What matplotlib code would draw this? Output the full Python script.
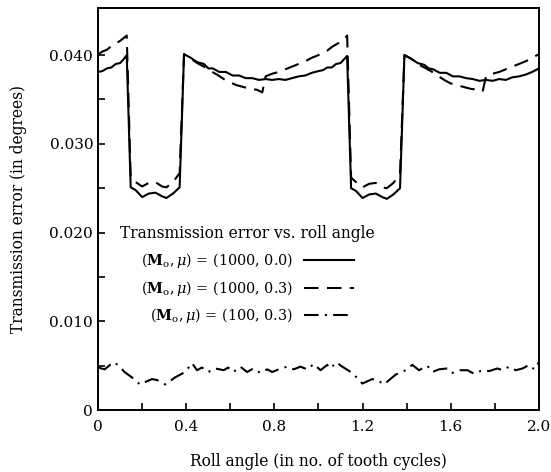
import matplotlib
matplotlib.use("Agg")
import matplotlib.pyplot as plt
from matplotlib.ticker import MultipleLocator, FixedLocator, FixedFormatter

plt.rcParams['font.family'] = ['DejaVu Serif']
plt.rcParams['mathtext.fontset'] = 'dejavuserif'

# (M_o, mu) = (1000, 0.0)  solid
x_solid = [0.00, 0.02, 0.04, 0.06, 0.08, 0.10, 0.115, 0.13, 0.148, 0.17, 0.20, 0.23, 0.26, 0.29,
           0.31, 0.34, 0.37, 0.39, 0.42, 0.45, 0.48, 0.50, 0.52, 0.55, 0.58, 0.61, 0.64, 0.67,
           0.70, 0.73, 0.76, 0.79, 0.82, 0.85, 0.88, 0.91, 0.94, 0.97, 1.00, 1.02, 1.04, 1.06,
           1.08, 1.10, 1.115, 1.13, 1.148, 1.17, 1.20, 1.23, 1.26, 1.29, 1.31, 1.34, 1.37, 1.39,
           1.42, 1.45, 1.48, 1.50, 1.52, 1.55, 1.58, 1.61, 1.64, 1.67, 1.70, 1.73, 1.76, 1.79,
           1.82, 1.85, 1.88, 1.91, 1.94, 1.97, 2.00]
y_solid = [0.0381, 0.0382, 0.0385, 0.0386, 0.0390, 0.0391, 0.0395, 0.0400, 0.0251, 0.0248, 0.0240,
           0.0244, 0.0245, 0.0241, 0.0239, 0.0244, 0.0251, 0.0401, 0.0397, 0.0392, 0.0390, 0.0385,
           0.0385, 0.0381, 0.0381, 0.0377, 0.0377, 0.0374, 0.0374, 0.0372, 0.0373, 0.0372, 0.0373,
           0.0372, 0.0374, 0.0376, 0.0377, 0.0380, 0.0382, 0.0383, 0.0386, 0.0386, 0.0390, 0.0391,
           0.0395, 0.0399, 0.0250, 0.0247, 0.0239, 0.0243, 0.0244, 0.0240, 0.0238, 0.0243, 0.0250,
           0.0400, 0.0396, 0.0391, 0.0389, 0.0385, 0.0384, 0.0380, 0.0380, 0.0376, 0.0376, 0.0374,
           0.0373, 0.0371, 0.0372, 0.0371, 0.0373, 0.0372, 0.0375, 0.0376, 0.0378, 0.0381, 0.0385]

# (M_o, mu) = (1000, 0.3)  dashed
x_dashed = [0.00, 0.02, 0.04, 0.06, 0.08, 0.10, 0.12, 0.13, 0.148, 0.17, 0.20, 0.23, 0.26, 0.29,
            0.31, 0.34, 0.37, 0.39, 0.42, 0.45, 0.48, 0.51, 0.54, 0.57, 0.60, 0.63, 0.66, 0.69,
            0.72, 0.745, 0.76, 0.79, 0.82, 0.85, 0.88, 0.91, 0.94, 0.97, 1.00, 1.02, 1.04, 1.06,
            1.08, 1.10, 1.12, 1.13, 1.148, 1.17, 1.20, 1.23, 1.26, 1.29, 1.31, 1.34, 1.37, 1.39,
            1.42, 1.45, 1.48, 1.51, 1.54, 1.57, 1.60, 1.63, 1.66, 1.69, 1.72, 1.745, 1.76, 1.79,
            1.82, 1.85, 1.88, 1.91, 1.94, 1.97, 2.00]
y_dashed = [0.0401, 0.0404, 0.0406, 0.0410, 0.0413, 0.0416, 0.0420, 0.0422, 0.0262, 0.0257, 0.0252,
            0.0256, 0.0257, 0.0252, 0.0251, 0.0257, 0.0267, 0.0401, 0.0396, 0.0391, 0.0387, 0.0382,
            0.0378, 0.0373, 0.0369, 0.0366, 0.0364, 0.0362, 0.0361, 0.0358, 0.0376, 0.0379, 0.0381,
            0.0384, 0.0387, 0.0390, 0.0393, 0.0397, 0.0400, 0.0403, 0.0405, 0.0409, 0.0412, 0.0415,
            0.0419, 0.0422, 0.0262, 0.0257, 0.0251, 0.0255, 0.0256, 0.0251, 0.0250, 0.0256, 0.0266,
            0.0400, 0.0396, 0.0390, 0.0386, 0.0382, 0.0377, 0.0372, 0.0368, 0.0366, 0.0364, 0.0362,
            0.0361, 0.0359, 0.0376, 0.0379, 0.0381, 0.0384, 0.0387, 0.0390, 0.0393, 0.0397, 0.0401]

# (M_o, mu) = (100, 0.3)  dash-dot
x_dashdot = [0.00, 0.03, 0.069, 0.09, 0.12, 0.153, 0.19, 0.244, 0.267, 0.305, 0.35, 0.395, 0.426,
             0.449, 0.471, 0.50, 0.532, 0.57, 0.59, 0.614, 0.645, 0.676, 0.705, 0.736, 0.767,
             0.79, 0.82, 0.857, 0.888, 0.918, 0.949, 0.979, 1.009, 1.04, 1.055, 1.08, 1.108,
             1.153, 1.199, 1.244, 1.267, 1.297, 1.35, 1.395, 1.426, 1.456, 1.494, 1.517, 1.547,
             1.585, 1.608, 1.638, 1.676, 1.706, 1.744, 1.774, 1.812, 1.835, 1.865, 1.895, 1.926,
             1.956, 1.979, 2.00]
y_dashdot = [0.0048, 0.0046, 0.0054, 0.0051, 0.0043, 0.0037, 0.0029, 0.0035, 0.0034, 0.0029,
             0.0037, 0.0043, 0.0053, 0.0045, 0.0048, 0.0043, 0.0047, 0.0045, 0.0048, 0.0043,
             0.0049, 0.0043, 0.0047, 0.0042, 0.0046, 0.0043, 0.0046, 0.0049, 0.0046, 0.0049,
             0.0046, 0.0052, 0.0045, 0.0051, 0.0047, 0.0054, 0.0049, 0.0042, 0.0030, 0.0035,
             0.0034, 0.0029, 0.0040, 0.0045, 0.0051, 0.0045, 0.0050, 0.0043, 0.0046, 0.0047,
             0.0042, 0.0045, 0.0045, 0.0041, 0.0045, 0.0044, 0.0047, 0.0045, 0.0049, 0.0045,
             0.0047, 0.0051, 0.0046, 0.0054]

labels = [r"$(\mathbf{M}_\mathrm{o},\mu)$ = (1000, 0.0)",
          r"$(\mathbf{M}_\mathrm{o},\mu)$ = (1000, 0.3)",
          r"$(\mathbf{M}_\mathrm{o},\mu)$ = (100, 0.3)"]
legend_title = "Transmission error vs. roll angle"

x_ticks = [0, 0.4, 0.8, 1.2, 1.6, 2.0]
x_ticklabels = ["0", "0.4", "0.8", "1.2", "1.6", "2.0"]
y_ticks = [0, 0.010, 0.020, 0.030, 0.040]
y_ticklabels = ["0", "0.010", "0.020", "0.030", "0.040"]
y_minor_ticks = [0.005, 0.015, 0.025, 0.035]

fig = plt.figure(figsize=(5.51, 4.72), dpi=100)
ax = fig.add_axes([0.178, 0.131, 0.800, 0.852])

lw = 1.5
ax.plot(x_solid, y_solid, color='black', lw=lw, label=labels[0])
ax.plot(x_dashed, y_dashed, color='black', lw=lw, dashes=(7, 4), label=labels[1])
ax.plot(x_dashdot, y_dashdot, color='black', lw=lw, dashes=(7, 3, 1, 3), label=labels[2])

ax.set_xlim(0, 2.0)
ax.set_ylim(0, 0.0453)
ax.xaxis.set_major_locator(FixedLocator(x_ticks))
ax.xaxis.set_major_formatter(FixedFormatter(x_ticklabels))
ax.xaxis.set_minor_locator(MultipleLocator(0.2))
ax.yaxis.set_major_locator(FixedLocator(y_ticks))
ax.yaxis.set_major_formatter(FixedFormatter(y_ticklabels))
ax.yaxis.set_minor_locator(FixedLocator(y_minor_ticks))
ax.tick_params(which='both', direction='in', length=5, width=1.2, labelsize=11,
               top=False, right=False)
ax.tick_params(axis='x', pad=7)
for s in ax.spines.values():
    s.set_linewidth(1.4)

ax.set_xlabel("Roll angle (in no. of tooth cycles)", fontsize=11.2, labelpad=14)
ax.set_ylabel("Transmission error (in degrees)", fontsize=11.2, labelpad=16)

leg = ax.legend(title=legend_title, loc='center left', bbox_to_anchor=(0.02, 0.335),
                frameon=False, markerfirst=False, fontsize=10.4, title_fontsize=11.2,
                handlelength=3.4, labelspacing=0.6, handletextpad=0.8)

fig.savefig("out.png", dpi=100)
